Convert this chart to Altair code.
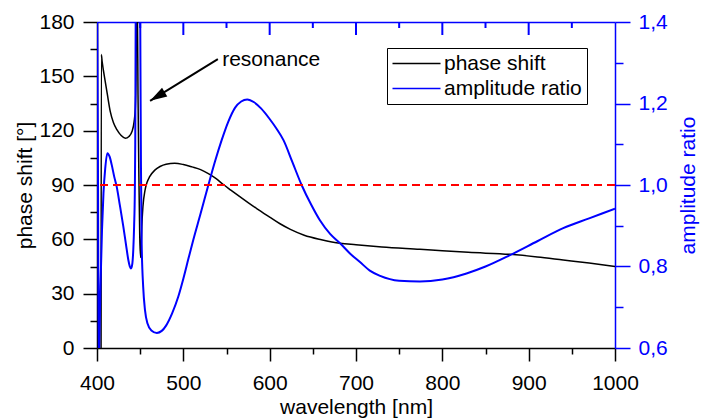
import altair as alt
import pandas as pd

FONT = "Liberation Sans"

# ---- phase shift (black) ----
WL_PHASE = [404.7, 405.0, 406, 409.6, 412, 415.4, 419, 423.2, 428, 432.8, 437, 440.5, 443, 444.4,
            445.2, 445.6, 445.8, 446.6, 446.8, 447.5, 448.5, 449.5, 450.5, 451.3, 451.9, 453.2,
            455.6, 458, 461, 467, 473, 480, 490, 500, 510, 520, 529, 538, 546, 555, 565, 575,
            585, 600, 612, 624, 640, 660, 681.5, 700, 730, 774, 800, 830, 878, 910, 940, 970, 1000]
PHASE = [-5, 162, 158, 147, 140, 130.5, 124.5, 120.4, 117.3, 115.8, 116.8, 119.5, 125, 132.4,
         150, 178, 185, 185, 185, 140, 95, 62, 50, 58, 67, 78,
         87, 91.5, 94.6, 98.2, 100.2, 101.5, 102, 101.3, 100, 98.5, 96.3, 93.5, 90.4, 87.2, 83.7, 80.3,
         77, 72.3, 68.6, 65.5, 62.3, 59.8, 57.8, 57, 55.8, 54.5, 53.7, 52.8, 51.7, 50.3, 48.6, 46.9, 45]

# ---- amplitude ratio (blue) ----
WL_AMP = [400.3, 401.2, 402.0, 402.6, 404, 405.8, 407.5, 409.5, 412, 414.5, 417, 420, 422.8,
          426.5, 430.5, 433.5, 436.3, 438, 439.4, 440.8, 442, 443, 443.8, 444.3, 444.8, 445.2,
          449.8, 450.3, 450.9, 451.7, 453.5, 455.6, 458.5, 463, 469.3, 475, 480, 487, 494, 500,
          506, 511.5, 520, 529, 537, 544.4, 552, 560, 567, 574, 582, 590, 600, 608, 616, 626,
          637, 648, 658, 670, 681.5, 693, 704.6, 716, 728, 750, 774, 800, 828, 850, 878.4, 910,
          940, 970, 1000]
AMP = [1.45, 1.0, 0.55, 0.6, 0.75, 0.89, 0.98, 1.04, 1.078, 1.07, 1.05, 1.02, 0.996,
       0.95, 0.898, 0.855, 0.816, 0.80, 0.795, 0.805, 0.84, 0.9, 0.98, 1.1, 1.4, 1.5,
       1.5, 1.3, 1.05, 0.86, 0.75, 0.693, 0.66, 0.643, 0.637, 0.642, 0.655, 0.685, 0.725, 0.77,
       0.82, 0.865, 0.93, 1.0, 1.06, 1.11, 1.155, 1.19, 1.205, 1.21, 1.203, 1.188, 1.162, 1.138, 1.11, 1.058,
       1.0, 0.952, 0.914, 0.88, 0.857, 0.832, 0.811, 0.79, 0.777, 0.765, 0.763, 0.768, 0.783, 0.80, 0.828, 0.862,
       0.894, 0.918, 0.942]

SERIES = ["phase shift", "amplitude ratio"]
COLORS = ["#000000", "#0000ff"]

X_DOMAIN = [400, 1000]
PHASE_DOMAIN = [0, 180]
AMP_DOMAIN = [0.6, 1.4]
X_TICKS = list(range(400, 1001, 50))
PHASE_TICKS = list(range(0, 181, 15))
AMP_TICKS = [0.6, 0.7, 0.8, 0.9, 1.0, 1.1, 1.2, 1.3, 1.4]
REF_PHASE = [90]

RESONANCE_LABEL = ["resonance"]
RESONANCE_X = [545]
RESONANCE_Y = [159]
ARROW_TAIL = [540, 159.5]
ARROW_TIP = [461.5, 136.5]

W, H = 518, 326
BLUE = "#0000ff"
MAJOR_PX, MINOR_PX = 13, 6

phase_df = pd.DataFrame({"wl": WL_PHASE, "v": PHASE, "series": SERIES[0]})
amp_df = pd.DataFrame({"wl": WL_AMP, "v": AMP, "series": SERIES[1]})
ref_df = pd.DataFrame({"v": REF_PHASE})
ann_df = pd.DataFrame({"x": RESONANCE_X, "y": RESONANCE_Y, "t": RESONANCE_LABEL})
arrow_df = pd.DataFrame({"x": [ARROW_TAIL[0]], "y": [ARROW_TAIL[1]],
                         "x2": [ARROW_TIP[0]], "y2": [ARROW_TIP[1]]})
tip_df = pd.DataFrame({"x": [ARROW_TIP[0]], "y": [ARROW_TIP[1]]})

# inward ticks of the top frame, expressed through the x and phase scales
top_val = PHASE_DOMAIN[1]
deg_per_px = (PHASE_DOMAIN[1] - PHASE_DOMAIN[0]) / H
inner = X_TICKS[1:-1]
tick_df = pd.DataFrame({
    "tx": inner,
    "tx2": inner,
    "ty": [top_val] * len(inner),
    "ty2": [top_val - (MAJOR_PX if t % 100 == 0 else MINOR_PX) * deg_per_px for t in inner],
})

xscale = alt.Scale(domain=X_DOMAIN, nice=False, zero=False)
pscale = alt.Scale(domain=PHASE_DOMAIN, nice=False, zero=False)
ascale = alt.Scale(domain=AMP_DOMAIN, nice=False, zero=False)

color_scale = alt.Scale(domain=SERIES, range=COLORS)
legend = alt.Legend(
    orient="none", legendX=290, legendY=26, title=None,
    symbolType="M-12,0H12", symbolSize=16, symbolStrokeWidth=1.5,
    symbolOffset=14, labelOffset=17,
    labelFont=FONT, labelFontSize=21, labelColor="black",
    strokeColor="black", fillColor="white", padding=5, rowPadding=3, cornerRadius=0,
)

bottom_axis = alt.Axis(
    orient="bottom", values=X_TICKS, title="wavelength [nm]",
    labelExpr="datum.value % 100 == 0 ? format(datum.value, 'd') : ''",
    tickSize=alt.ExprRef(expr="datum.value % 100 == 0 ? 13 : 6"),
    labelPadding=11, titleX=W / 2, titleY=59, titleAlign="center", titleBaseline="middle",
    labelFlush=False, labelOverlap=False, grid=False,
    domainColor="black", tickColor="black", domainWidth=1.5, tickWidth=1.5,
)
top_axis = alt.Axis(
    orient="top", values=X_TICKS, title=None, labels=False, ticks=False,
    grid=False, domainColor=BLUE, domainWidth=1.5,
)
left_axis = alt.Axis(
    orient="left", values=PHASE_TICKS, title="phase shift [°]",
    labelExpr="datum.value % 30 == 0 ? datum.label : ''",
    tickSize=alt.ExprRef(expr="datum.value % 30 == 0 ? 14 : 7"),
    labelPadding=9, titleX=-72, titleY=H / 2, titleAngle=270, titleAlign="center",
    titleBaseline="middle", labelFlush=False, labelOverlap=False, grid=False,
    domainColor="black", tickColor="black", domainWidth=1.5, tickWidth=1.5,
)
right_axis = alt.Axis(
    orient="right", values=AMP_TICKS, title="amplitude ratio",
    labelExpr="round(datum.value * 10) % 2 == 0 ? replace(format(datum.value, '.1f'), '.', ',') : ''",
    tickSize=alt.ExprRef(expr="round(datum.value * 10) % 2 == 0 ? 15 : 8"),
    labelPadding=8, titleX=73, titleY=H / 2, titleAngle=270, titleAlign="center",
    titleBaseline="middle", labelFlush=False, labelOverlap=False, grid=False,
    domainColor=BLUE, tickColor=BLUE, labelColor=BLUE, titleColor=BLUE,
    domainWidth=1.5, tickWidth=1.5,
)

phase_line = alt.Chart(phase_df).mark_line(strokeWidth=1.5, clip=True, interpolate="monotone").encode(
    x=alt.X("wl:Q", scale=xscale, axis=bottom_axis),
    y=alt.Y("v:Q", scale=pscale, axis=left_axis),
    color=alt.Color("series:N", scale=color_scale, legend=legend),
)
top_ticks = alt.Chart(tick_df).mark_rule(color=BLUE, strokeWidth=2).encode(
    x=alt.X("tx:Q", scale=xscale, axis=None), x2="tx2:Q",
    y=alt.Y("ty:Q", scale=pscale, axis=None), y2="ty2:Q",
)
ref_rule = alt.Chart(ref_df).mark_rule(color="#ff0000", strokeWidth=2, strokeDash=[8, 5]).encode(
    y=alt.Y("v:Q", scale=pscale, axis=None),
)
arrow_line = alt.Chart(arrow_df).mark_rule(color="black", strokeWidth=2).encode(
    x=alt.X("x:Q", scale=xscale, axis=None), y=alt.Y("y:Q", scale=pscale, axis=None),
    x2="x2:Q", y2="y2:Q",
)
arrow_head = alt.Chart(tip_df).mark_point(
    shape="M0,0L-0.3,1L0.3,1Z", size=1156, angle=239, filled=True, color="black", opacity=1,
).encode(
    x=alt.X("x:Q", scale=xscale, axis=None), y=alt.Y("y:Q", scale=pscale, axis=None),
)
ann_text = alt.Chart(ann_df).mark_text(
    align="left", baseline="middle", font=FONT, fontSize=21, color="black",
).encode(
    x=alt.X("x:Q", scale=xscale, axis=None), y=alt.Y("y:Q", scale=pscale, axis=None), text="t:N",
)

amp_line = alt.Chart(amp_df).mark_line(strokeWidth=2, clip=True, interpolate="monotone").encode(
    x=alt.X("wl:Q", scale=xscale, axis=top_axis),
    y=alt.Y("v:Q", scale=ascale, axis=right_axis),
    color=alt.Color("series:N", scale=color_scale, legend=legend),
)

chart = alt.layer(
    phase_line, amp_line, ref_rule, arrow_line, top_ticks, arrow_head, ann_text
).resolve_scale(
    y="independent"
).resolve_axis(
    x="independent", y="independent"
).properties(
    width=W, height=H,
    padding={"left": 97, "top": 22, "right": 87, "bottom": 71},
    autosize=alt.AutoSizeParams(type="none"),
).configure_view(stroke=None).configure_axis(
    labelFont=FONT, titleFont=FONT, labelFontSize=21, titleFontSize=21,
    titleFontWeight="normal", labelColor="black", titleColor="black",
)

chart.save("out.html", embed_options={"renderer": "svg", "actions": False})
